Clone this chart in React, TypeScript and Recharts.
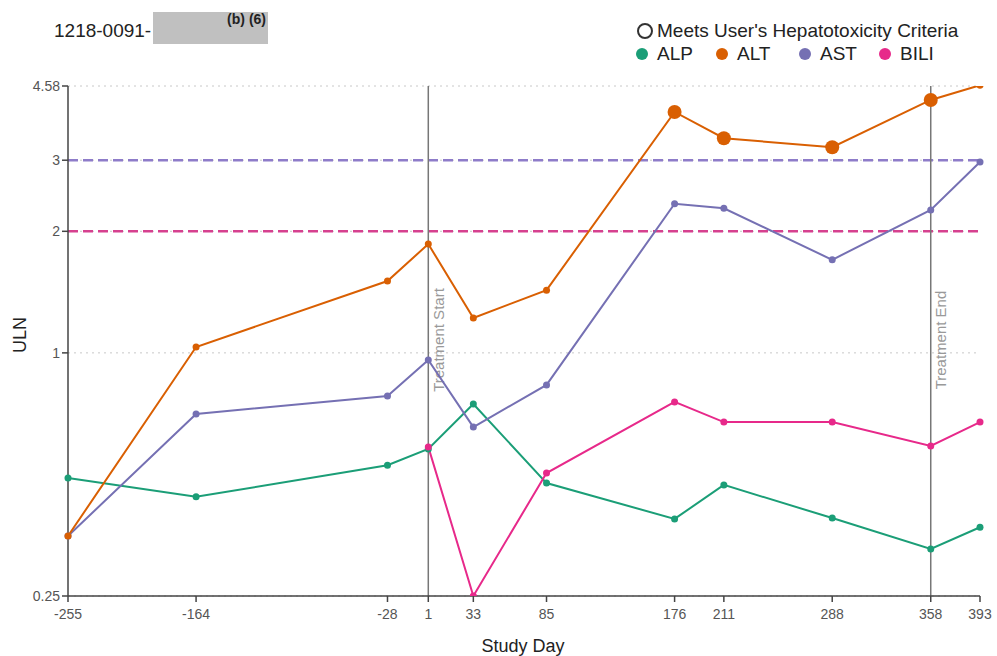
import { LineChart, Line, XAxis, YAxis, CartesianGrid, ReferenceLine } from "recharts";

const days = [-255, -164, -28, 1, 33, 85, 176, 211, 288, 358, 393];
const alp = [0.49, 0.44, 0.527, 0.578, 0.747, 0.476, 0.388, 0.471, 0.39, 0.327, 0.37];
const alt = [0.352, 1.034, 1.506, 1.86, 1.22, 1.43, 3.95, 3.4, 3.23, 4.23, 4.6];
const ast = [0.352, 0.706, 0.782, 0.96, 0.655, 0.833, 2.34, 2.28, 1.7, 2.26, 2.97];
const bili = [null, null, null, 0.585, 0.25, 0.504, 0.756, 0.674, 0.674, 0.588, 0.674];
const altMeets = [false, false, false, false, false, false, true, true, true, true, false];

const yTicks = [0.25, 1, 2, 3, 4.58];
const astLimit = 3;
const altLimit = 2;
const treatmentStart = 1;
const treatmentEnd = 358;

const COLORS = { alp: "#1b9e77", alt: "#d95f02", ast: "#7570b3", bili: "#e7298a" };
const FONT = "'Liberation Sans', Arial, sans-serif";

const data = days.map((d, i) => ({
    day: d,
    alp: alp[i],
    alt: alt[i],
    ast: ast[i],
    bili: bili[i],
    altMeets: altMeets[i],
}));

const makeDot = (color: string, flagKey?: string) => (props: any) => {
    const { cx, cy, payload, index } = props;
    if (cx == null || cy == null) return <g key={`n-${index}`} />;
    const big = flagKey ? payload[flagKey] : false;
    return <circle key={`d-${color}-${index}`} cx={cx} cy={cy} r={big ? 7 : 3.5} fill={color} stroke="none" />;
};

const VLabel = (text: string) => (props: any) => {
    const { viewBox } = props;
    const x = viewBox.x + 10;
    const y = 340;
    return (
        <text x={x} y={y} transform={`rotate(-90 ${x} ${y})`} textAnchor="middle" dominantBaseline="central"
            fill="#999" fontSize={15} fontFamily={FONT}>
            {text}
        </text>
    );
};

const legendItems = [
    { name: "ALP", color: COLORS.alp, x: 636 },
    { name: "ALT", color: COLORS.alt, x: 716 },
    { name: "AST", color: COLORS.ast, x: 799 },
    { name: "BILI", color: COLORS.bili, x: 879 },
];

export default function App() {
    return (
        <div style={{ position: "absolute", left: 0, top: 0, width: 997, height: 656, background: "#fff", fontFamily: FONT }}>
            <div style={{ position: "absolute", left: 54, top: 20, fontSize: 19, color: "#222" }}>1218-0091-</div>
            <div style={{ position: "absolute", left: 153, top: 12, width: 115, height: 32, background: "#c0c0c0" }}>
                <div style={{ position: "absolute", right: 2, top: -1, fontSize: 14, fontWeight: "bold", color: "#222" }}>(b) (6)</div>
            </div>

            <div style={{ position: "absolute", left: 637, top: 20, fontSize: 19, color: "#222", display: "flex", alignItems: "center" }}>
                <span style={{ display: "inline-block", width: 12, height: 12, borderRadius: "50%", border: "2px solid #333", marginRight: 4 }} />
                Meets User's Hepatotoxicity Criteria
            </div>
            {legendItems.map((it) => (
                <div key={it.name} style={{ position: "absolute", left: it.x, top: 43, fontSize: 19, color: "#222", display: "flex", alignItems: "center" }}>
                    <span style={{ display: "inline-block", width: 12, height: 12, borderRadius: "50%", background: it.color, marginRight: 9 }} />
                    {it.name}
                </div>
            ))}

            <div style={{ position: "absolute", left: 20, top: 335, transform: "translate(-50%, -50%) rotate(-90deg)", fontSize: 18, color: "#222" }}>ULN</div>
            <div style={{ position: "absolute", left: 523, top: 646, transform: "translate(-50%, -50%)", fontSize: 18, color: "#222" }}>Study Day</div>

            <LineChart width={997} height={656} data={data} margin={{ top: 86, right: 17, bottom: 30, left: 28 }}
                style={{ position: "absolute", left: 0, top: 0 }}>
                <CartesianGrid vertical={false} stroke="#c8c8c8" strokeDasharray="2 4" />
                <XAxis dataKey="day" type="number" domain={[-255, 393]} ticks={days} interval={0} height={30}
                    stroke="#444" strokeWidth={1.5} tickSize={6}
                    tick={{ fill: "#555", fontSize: 14, fontFamily: FONT, dy: 5 }} />
                <YAxis type="number" scale="log" domain={[0.25, 4.58]} ticks={yTicks} allowDataOverflow width={40}
                    interval={0} stroke="#444" strokeWidth={1.5} tickSize={6}
                    tick={{ fill: "#555", fontSize: 14, fontFamily: FONT }} tickFormatter={(v) => String(v)} />
                <ReferenceLine y={astLimit} stroke="#8e7cc9" strokeWidth={2.5} strokeDasharray="10 5" />
                <ReferenceLine y={altLimit} stroke="#d6418f" strokeWidth={2.5} strokeDasharray="10 5" />
                <ReferenceLine x={treatmentStart} stroke="#777" strokeWidth={1.5} label={VLabel("Treatment Start")} />
                <ReferenceLine x={treatmentEnd} stroke="#777" strokeWidth={1.5} label={VLabel("Treatment End")} />
                <Line dataKey="alp" stroke={COLORS.alp} strokeWidth={2} dot={makeDot(COLORS.alp)} isAnimationActive={false} />
                <Line dataKey="ast" stroke={COLORS.ast} strokeWidth={2} dot={makeDot(COLORS.ast)} isAnimationActive={false} />
                <Line dataKey="alt" stroke={COLORS.alt} strokeWidth={2} dot={makeDot(COLORS.alt, "altMeets")} isAnimationActive={false} />
                <Line dataKey="bili" stroke={COLORS.bili} strokeWidth={2} dot={makeDot(COLORS.bili)} isAnimationActive={false} />
            </LineChart>
        </div>
    );
}
